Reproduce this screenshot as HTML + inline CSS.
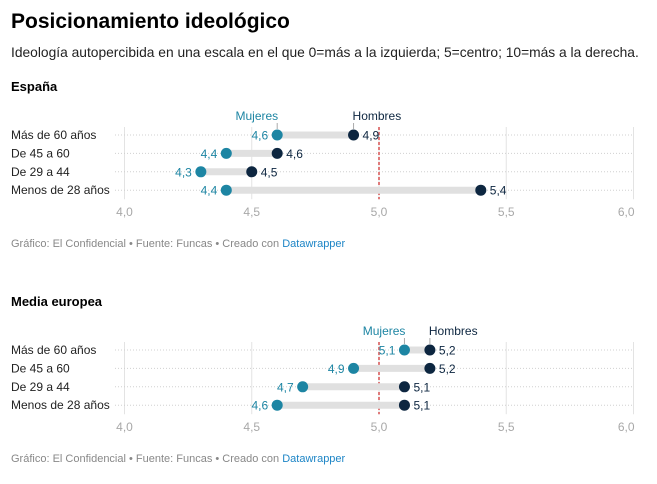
<!DOCTYPE html>
<html><head><meta charset="utf-8"><style>
body{margin:0;background:#fff;font-family:"Liberation Sans",sans-serif;}
svg text{font-family:"Liberation Sans",sans-serif;}
</style></head><body>
<svg id="c" width="657" height="479" xmlns="http://www.w3.org/2000/svg">
<text x="11" y="28" font-size="21" font-weight="bold" fill="#000">Posicionamiento ideológico</text>
<text x="11" y="57" font-size="13.8" fill="#222">Ideología autopercibida en una escala en el que 0=más a la izquierda; 5=centro; 10=más a la derecha.</text>
</svg>
<script>
const categories=["Más de 60 años","De 45 a 60","De 29 a 44","Menos de 28 años"];
const spainMujeres=[4.6,4.4,4.3,4.4];
const spainHombres=[4.9,4.6,4.5,5.4];
const euMujeres=[5.1,4.9,4.7,4.6];
const euHombres=[5.2,5.2,5.1,5.1];
const ticks=[4.0,4.5,5.0,5.5,6.0];
const refValue=5.0;
const svg=document.getElementById('c');
const NS="http://www.w3.org/2000/svg";
function x(v){return 124.5+(v-4)*254.5;}
function mk(tag,attrs,txt){const e=document.createElementNS(NS,tag);for(const k in attrs)e.setAttribute(k,attrs[k]);if(txt!==undefined)e.textContent=txt;svg.appendChild(e);return e;}
function fmt(v){return v.toFixed(1).replace('.',',');}
function panel(top,title,muj,hom){
  let t=mk('text',{x:11,y:top+5,'font-size':13,'font-weight':'bold',fill:'#000'},title);
  
  
  const y0=top+49,dy=18.4;
  ticks.forEach((v,k)=>{
    let l=mk('line',{x1:x(v),x2:x(v),y1:y0-8,y2:y0+3*dy+9,stroke:'#e3e3e3','stroke-width':1});
    
    
    const last=k===ticks.length-1;
    let tt=mk('text',{x:last?x(v)+1:x(v),y:y0+3*dy+26,'font-size':12,fill:'#a8a8a8','text-anchor':last?'end':'middle'},fmt(v));
    
    
  });
  categories.forEach((c,i)=>{
    const y=y0+i*dy;
    let g=mk('line',{x1:115,x2:633,y1:y,y2:y,stroke:'#d0d0d0','stroke-width':1,'stroke-dasharray':'1,2'});
    
    
    let lb=mk('text',{x:11,y:y+4,'font-size':12,fill:'#222'},c);
    
    
  });
  let r=mk('line',{x1:x(refValue),x2:x(refValue),y1:y0-8,y2:y0+3*dy+9,stroke:'#e07b7b','stroke-width':2,'stroke-dasharray':'3,2'});
  
  
  categories.forEach((c,i)=>{
    const y=y0+i*dy,m=muj[i],h=hom[i];
    let b=mk('line',{x1:x(m),x2:x(h),y1:y,y2:y,stroke:'#e0e0e0','stroke-width':7});
    
    
    let dm=mk('circle',{cx:x(m),cy:y,r:5.5,fill:'#1d85a3'});
    
    
    let dh=mk('circle',{cx:x(h),cy:y,r:5.5,fill:'#0d2640'});
    
    
    let vm=mk('text',{x:x(m)-9,y:y+4.5,'font-size':12,fill:'#1d85a3','text-anchor':'end'},fmt(m));
    
    
    let vh=mk('text',{x:x(h)+9,y:y+4.5,'font-size':12,fill:'#0d2640'},fmt(h));
    
    
  });
  let lm=mk('text',{x:x(muj[0])+1,y:y0-15,'font-size':12,fill:'#1d85a3','text-anchor':'end'},'Mujeres');
  
  
  mk('line',{x1:x(muj[0]),x2:x(muj[0]),y1:y0-12,y2:y0-6,stroke:'#aaa'});
  let lh=mk('text',{x:x(hom[0])-1,y:y0-15,'font-size':12,fill:'#0d2640'},'Hombres');
  
  
  mk('line',{x1:x(hom[0]),x2:x(hom[0]),y1:y0-12,y2:y0-6,stroke:'#aaa'});
  let f=mk('text',{x:11,y:y0+112,'font-size':11,fill:'#888'});
  f.innerHTML='Gráfico: El Confidencial • Fuente: Funcas • Creado con <tspan fill="#1d85c6">Datawrapper</tspan>';
  
  
}
panel(86,'España',spainMujeres,spainHombres);
panel(301,'Media europea',euMujeres,euHombres);
</script>
</body></html>
